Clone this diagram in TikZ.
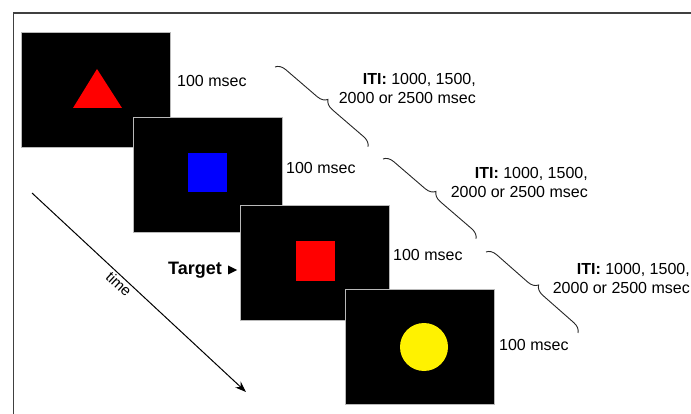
\documentclass[tikz,border=0pt]{standalone}
\usepackage{fontspec}
\setmainfont{Liberation Sans}
\usetikzlibrary{arrows.meta,decorations.pathreplacing,calc}
\begin{document}
\begin{tikzpicture}[x=1pt,y=-1pt,
  screen/.style={draw=gray!55,line width=0.8pt,fill=black,minimum width=149pt,minimum height=115pt,inner sep=0pt},
  dur/.style={anchor=west,font=\fontsize{16}{19}\selectfont,inner sep=0pt},
  iti/.style={anchor=east,align=right,font=\fontsize{16}{19}\selectfont,inner sep=0pt},
  framestyle/.style={draw=black!75,line width=1.6pt},
  bracestyle/.style={draw=black!85,line width=0.9pt,decorate,decoration={brace,amplitude=10pt}}]
\useasboundingbox (0,0) rectangle (691,414);
% frame
\draw[framestyle] (13.5,414) -- (13.5,13) -- (691,13);
% screens
\node[screen] (s1) at (96,90) {};
\fill[red] (97,69) -- (122,108) -- (73,108) -- cycle;
\node[screen] (s2) at (207.5,175) {};
\fill[blue] (188,153) rectangle (227,192);
\node[screen] (s3) at (315,262.5) {};
\fill[red] (296,241) rectangle (335,281);
\node[screen] (s4) at (420,346.5) {};
\fill[yellow] (424,347) circle[radius=24];
% durations
\node[dur] (d1) at (177,81) {100 msec};
\node[dur] (d2) at (286,168) {100 msec};
\node[dur] (d3) at (393,255) {100 msec};
\node[dur] (d4) at (499,345) {100 msec};
% ITI labels
\node[iti] (i1) at (476,88.5) {\textbf{ITI:} 1000, 1500,\\2000 or 2500 msec};
\node[iti] (i2) at (588,182.5) {\textbf{ITI:} 1000, 1500,\\2000 or 2500 msec};
\node[iti] (i3) at (690,278.5) {\textbf{ITI:} 1000, 1500,\\2000 or 2500 msec};
% braces
\coordinate (b1s) at (275,67); \coordinate (b1e) at (368,147);
\coordinate (b2s) at (383,159); \coordinate (b2e) at (476,239);
\coordinate (b3s) at (486,252); \coordinate (b3e) at (578,333);
\draw[bracestyle] (b1s) -- (b1e);
\draw[bracestyle] (b2s) -- (b2e);
\draw[bracestyle] (b3s) -- (b3e);
% time arrow
\coordinate (t0) at (32,193);
\coordinate (t1) at (246,392);
\draw[line width=1pt,-{Stealth[length=11pt,width=8pt]}] (t0) -- node[pos=0.43,sloped,below,font=\fontsize{15}{17}\selectfont,inner sep=1.5pt] {time} (t1);
% target
\node[anchor=east,font=\bfseries\fontsize{18}{21}\selectfont,inner sep=0pt] (tg) at (222,270) {Target};
\fill ($(tg.east)+(6,-4.5)$) -- ++(9,4.5) -- ++(-9,4.5) -- cycle;
\end{tikzpicture}
\end{document}
